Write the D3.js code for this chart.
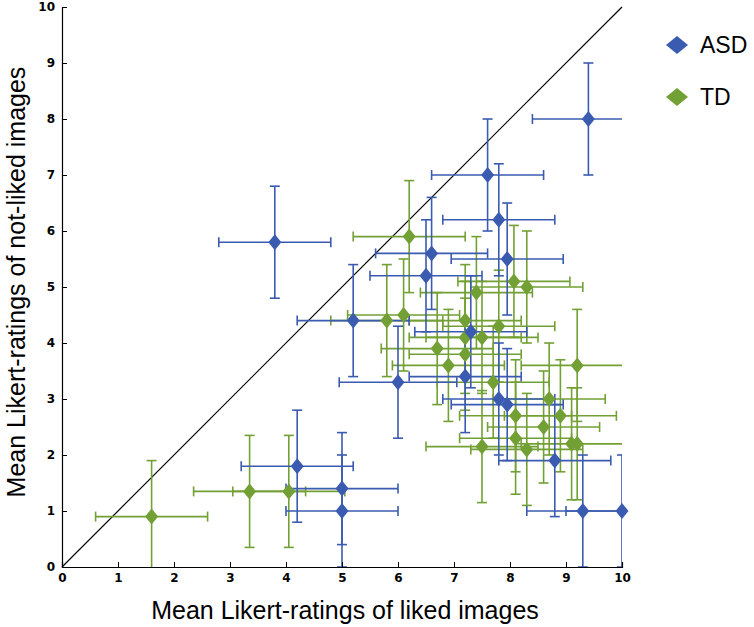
<!DOCTYPE html>
<html><head><meta charset="utf-8">
<script src="https://cdn.jsdelivr.net/npm/d3@7"></script>
<style>body{margin:0;background:#fff;}svg{display:block;font-family:"Liberation Sans",Arial,sans-serif;}</style>
</head><body>
<svg id="c" width="754" height="627"></svg>
<script>
const asdX = [3.8, 9.4, 7.6, 7.8, 7.95, 6.6, 6.5, 5.2, 6.0, 7.3, 7.2, 7.8, 7.95, 8.8, 9.3, 10.0, 4.2, 5.0, 5.0];
const asdY = [5.8, 8.0, 7.0, 6.2, 5.5, 5.6, 5.2, 4.4, 3.3, 4.2, 3.4, 3.0, 2.9, 1.9, 1.0, 1.0, 1.8, 1.4, 1.0];
const asdXErr = [1.0, 1.0, 1.0, 1.0, 1.0, 1.0, 1.0, 1.0, 1.05, 1.0, 1.0, 1.0, 1.0, 1.0, 1.0, 1.0, 1.0, 1.0, 1.0];
const asdYErr = [1.0, 1.0, 1.0, 1.0, 1.0, 1.0, 1.0, 1.0, 1.0, 1.0, 1.0, 1.0, 1.0, 1.0, 1.0, 1.0, 1.0, 1.0, 1.0];

const tdX = [1.6, 3.35, 4.05, 6.2, 5.8, 6.1, 8.07, 8.3, 7.4, 7.2, 7.8, 7.2, 7.5, 6.7, 7.2, 6.9, 9.2, 7.7, 8.7, 8.1, 8.9, 8.6, 8.1, 7.5, 8.3, 9.1, 9.2];
const tdY = [0.9, 1.35, 1.35, 5.9, 4.4, 4.5, 5.1, 5.0, 4.9, 4.4, 4.3, 4.1, 4.1, 3.9, 3.8, 3.6, 3.6, 3.3, 3.0, 2.7, 2.7, 2.5, 2.3, 2.15, 2.1, 2.2, 2.2];
const tdXErr = [1.0, 1.0, 1.0, 1.0, 1.0, 1.0, 1.0, 1.0, 1.0, 1.0, 1.0, 1.0, 1.0, 1.0, 1.0, 1.0, 1.0, 1.0, 1.0, 1.0, 1.0, 1.0, 1.0, 1.0, 1.0, 1.0, 1.0];
const tdYErr = [1.0, 1.0, 1.0, 1.0, 1.0, 1.0, 1.0, 1.0, 1.0, 1.0, 1.0, 1.0, 1.0, 1.0, 1.0, 1.0, 1.0, 1.0, 1.0, 1.0, 1.0, 1.0, 1.0, 1.0, 1.0, 1.0, 1.0];

const tickValues = [0,1,2,3,4,5,6,7,8,9,10];
const seriesNames = ["ASD", "TD"];
const seriesColors = ["#3a5bb0", "#72a034"];
const xTitle = "Mean Likert-ratings of liked images";
const yTitle = "Mean Likert-ratings of not-liked images";

const svg = d3.select("#c");
const L = 62, T = 7, W = 560, H = 560;
const x = d3.scaleLinear().domain([0,10]).range([L, L+W]);
const y = d3.scaleLinear().domain([0,10]).range([T+H, T]);

svg.append("defs").append("clipPath").attr("id","clip")
  .append("rect").attr("x",L).attr("y",T).attr("width",W).attr("height",H);

// diagonal
svg.append("line").attr("x1",x(0)).attr("y1",y(0)).attr("x2",x(10)).attr("y2",y(10))
  .attr("stroke","#000").attr("stroke-width",1.2);

function buildSeries(xs, ys, xe, ye){ return xs.map((v,i)=>({x:v,y:ys[i],xe:xe[i],ye:ye[i]})); }
const series = [buildSeries(tdX, tdY, tdXErr, tdYErr), buildSeries(asdX, asdY, asdXErr, asdYErr)];
const colors = [seriesColors[1], seriesColors[0]];
const cap = 5;

series.forEach((data, si) => {
  const g = svg.append("g").attr("clip-path","url(#clip)")
    .attr("stroke", colors[si]).attr("stroke-width",1.6).attr("fill","none");
  data.forEach(d => {
    const cx = x(d.x), cy = y(d.y);
    const x0 = x(d.x - d.xe), x1 = x(d.x + d.xe), y0 = y(d.y - d.ye), y1 = y(d.y + d.ye);
    g.append("line").attr("x1",x0).attr("x2",x1).attr("y1",cy).attr("y2",cy);
    g.append("line").attr("x1",x0).attr("x2",x0).attr("y1",cy-cap).attr("y2",cy+cap);
    g.append("line").attr("x1",x1).attr("x2",x1).attr("y1",cy-cap).attr("y2",cy+cap);
    g.append("line").attr("x1",cx).attr("x2",cx).attr("y1",y0).attr("y2",y1);
    g.append("line").attr("x1",cx-cap).attr("x2",cx+cap).attr("y1",y0).attr("y2",y0);
    g.append("line").attr("x1",cx-cap).attr("x2",cx+cap).attr("y1",y1).attr("y2",y1);
  });
});

const diamond = (cx, cy, hw, hh) => `M${cx},${cy-hh}L${cx+hw},${cy}L${cx},${cy+hh}L${cx-hw},${cy}Z`;
series.forEach((data, si) => {
  svg.append("g").selectAll("path").data(data).join("path")
    .attr("d", d => diamond(x(d.x), y(d.y), 6.5, 8))
    .attr("fill", colors[si]);
});

// axes
const xAxis = d3.axisBottom(x).tickValues(tickValues).tickSize(-5).tickPadding(6).tickFormat(d3.format("d"));
const yAxis = d3.axisLeft(y).tickValues(tickValues).tickSize(-5).tickPadding(7).tickFormat(d3.format("d"));
const gx = svg.append("g").attr("transform",`translate(0,${T+H})`).call(xAxis);
const gy = svg.append("g").attr("transform",`translate(${L},0)`).call(yAxis);
[gx, gy].forEach(g => {
  g.select(".domain").attr("stroke","#000").attr("stroke-width",1.2);
  g.selectAll(".tick line").attr("stroke","#000").attr("stroke-width",1);
  g.selectAll(".tick text").attr("fill","#000").style("font-size","12px").style("font-weight","bold")
    .style("font-family","'DejaVu Sans',sans-serif");
});

svg.append("text").attr("x", 345).attr("y", 619).attr("text-anchor","middle")
  .style("font-size","25px").attr("fill","#000").text(xTitle);
svg.append("text").attr("transform","translate(25,282) rotate(-90)").attr("text-anchor","middle")
  .style("font-size","25px").attr("fill","#000").text(yTitle);

// legend
const lg = svg.append("g");
seriesNames.forEach((n, i) => {
  const cy = 45 + i*52;
  lg.append("path").attr("d", diamond(677, cy, 11, 9)).attr("fill", seriesColors[i]);
  lg.append("text").attr("x", 700).attr("y", cy + 8).style("font-size","23px").attr("fill","#000").text(n);
});
</script>
</body></html>
